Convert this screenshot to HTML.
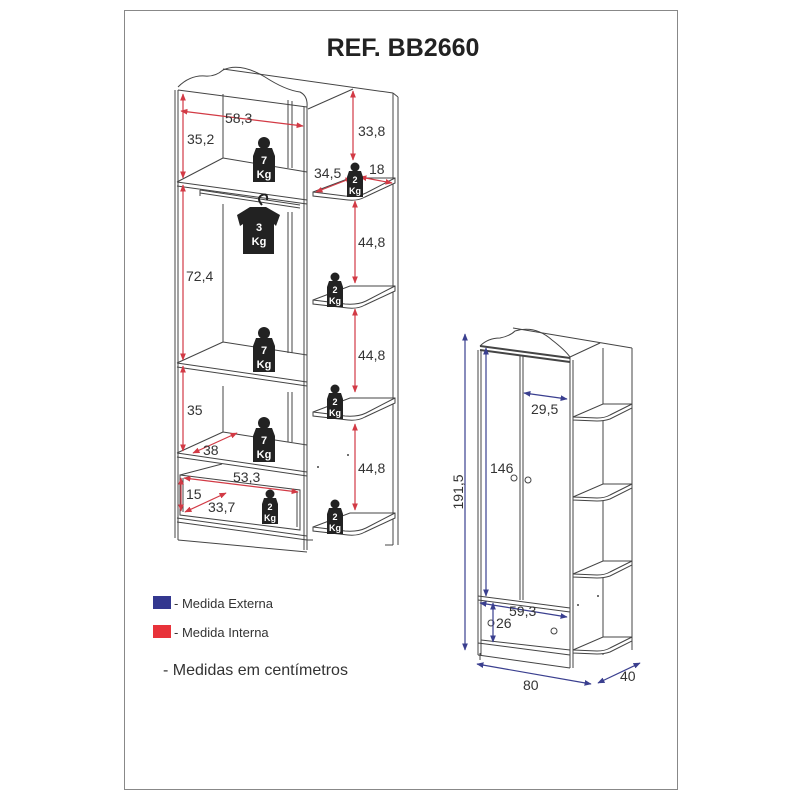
<!DOCTYPE html>
<html><head><meta charset="utf-8"><style>
html,body{margin:0;padding:0;background:#fff;}
svg{display:block;}
text{font-family:"Liberation Sans",Arial,sans-serif;}
</style></head><body>
<svg width="800" height="800" viewBox="0 0 800 800" xmlns="http://www.w3.org/2000/svg">
<defs>
<marker id="ar" viewBox="0 0 10 10" refX="9" refY="5" markerWidth="6" markerHeight="6" orient="auto-start-reverse"><path d="M0,1 L10,5 L0,9 z" fill="#d23a45"/></marker>
<marker id="ab" viewBox="0 0 10 10" refX="9" refY="5" markerWidth="6" markerHeight="6" orient="auto-start-reverse"><path d="M0,1 L10,5 L0,9 z" fill="#3a3f8f"/></marker>
<g id="w7"><circle cx="0" cy="-17" r="6" fill="#222"/><path d="M-8,-12 L8,-12 L11,-4 L11,22 L-11,22 L-11,-4 Z" fill="#222"/><text x="0" y="4" font-size="11" font-weight="bold" fill="#fff" text-anchor="middle">7</text><text x="0" y="18" font-size="11" font-weight="bold" fill="#fff" text-anchor="middle">Kg</text></g>
<g id="w2"><circle cx="0" cy="-13" r="4.5" fill="#222"/><path d="M-6,-9 L6,-9 L8,-3 L8,17 L-8,17 L-8,-3 Z" fill="#222"/><text x="0" y="3" font-size="9" font-weight="bold" fill="#fff" text-anchor="middle">2</text><text x="0" y="14" font-size="9" font-weight="bold" fill="#fff" text-anchor="middle">Kg</text></g>
<g id="sh"><path d="M313,192 L350,178 L395,178 L395,183 L365,197 Q358,201 348,200 L313,196 Z" fill="#fff" stroke="#444" stroke-width="1"/><path d="M313,192 L345,196 Q358,197 366,193 L395,178" fill="none" stroke="#444" stroke-width="1"/></g>
<g id="shb"><path d="M573,417 L603,404 L632,404 L632,408 L610,419 Q604,421 597,421 L573,420 Z" fill="#fff" stroke="#444" stroke-width="1"/><path d="M573,417 L597,418 Q605,418 610,415 L632,404" fill="none" stroke="#444" stroke-width="1"/></g>
</defs>
<rect x="124.5" y="10.5" width="553" height="779" fill="none" stroke="#888" stroke-width="1"/>
<text x="403" y="56" font-size="25" font-weight="bold" text-anchor="middle" fill="#222">REF. BB2660</text>

<!-- LEFT WARDROBE -->
<g fill="none" stroke="#444" stroke-width="1">
<path d="M175,90 L175,538 M178,90 L178,540"/>
<path d="M178,87 Q190,75 205,76 Q215,77 223,70 Q240,62 265,77 Q285,90 300,92 Q308,96 307,107"/>
<path d="M223,69 L393,93 M178,90 L307,107"/>
<path d="M307,107 L307,550 M304,107 L304,550"/>
<path d="M308,109 L353,89 M393,93 L393,545 M398,97 L398,545 M393,93 L398,97"/>
<path d="M223,94 L223,158 M288,100 L288,168 M292,101 L292,168"/>
<path d="M223,158 L307,172 M177,182 L223,158 M177,182 L307,200 M177,186 L307,204"/>
<path d="M200,190 L300,205 M200,193 L300,208 M200,190 L200,196"/>
<path d="M223,204 L223,342 M288,212 L288,353 M292,212 L292,353"/>
<path d="M223,342 L307,355 M177,363 L223,342 M177,363 L307,382 M177,367 L307,386"/>
<path d="M223,386 L223,432 M288,392 L288,442 M292,392 L292,442"/>
<path d="M223,432 L307,445 M177,453 L223,432 M177,453 L307,472 M177,457 L307,476"/>
<path d="M180,475 L222,464 M180,475 L300,490 L300,530 L180,515 Z M183,478 L183,512 M297,492 L297,527"/>
<path d="M177,518 L307,536 M177,522 L307,540 M178,540 L307,552"/>
<path d="M307,540 L313,540 M393,545 L385,545"/>
</g>
<use href="#sh"/>
<use href="#sh" transform="translate(0,108)"/>
<use href="#sh" transform="translate(0,220)"/>
<use href="#sh" transform="translate(0,335)"/>
<circle cx="318" cy="467" r="1" fill="#444"/><circle cx="348" cy="455" r="1" fill="#444"/>

<!-- red dims -->
<g stroke="#d23a45" stroke-width="1.2" fill="none">
<line x1="181" y1="111" x2="303" y2="126" marker-start="url(#ar)" marker-end="url(#ar)"/>
<line x1="183" y1="94" x2="183" y2="178" marker-start="url(#ar)" marker-end="url(#ar)"/>
<line x1="183" y1="185" x2="183" y2="360" marker-start="url(#ar)" marker-end="url(#ar)"/>
<line x1="183" y1="366" x2="183" y2="451" marker-start="url(#ar)" marker-end="url(#ar)"/>
<line x1="193" y1="453" x2="237" y2="433" marker-start="url(#ar)" marker-end="url(#ar)"/>
<line x1="184" y1="478" x2="298" y2="492" marker-start="url(#ar)" marker-end="url(#ar)"/>
<line x1="181" y1="478" x2="181" y2="511" marker-start="url(#ar)" marker-end="url(#ar)"/>
<line x1="185" y1="512" x2="226" y2="493" marker-start="url(#ar)" marker-end="url(#ar)"/>
<line x1="353" y1="91" x2="353" y2="160" marker-start="url(#ar)" marker-end="url(#ar)"/>
<line x1="316" y1="192" x2="352" y2="178" marker-start="url(#ar)" marker-end="url(#ar)"/>
<line x1="360" y1="177" x2="392" y2="183" marker-start="url(#ar)" marker-end="url(#ar)"/>
<line x1="355" y1="201" x2="355" y2="283" marker-start="url(#ar)" marker-end="url(#ar)"/>
<line x1="355" y1="309" x2="355" y2="392" marker-start="url(#ar)" marker-end="url(#ar)"/>
<line x1="355" y1="424" x2="355" y2="510" marker-start="url(#ar)" marker-end="url(#ar)"/>
</g>
<g font-size="14" fill="#333">
<text x="225" y="123">58,3</text>
<text x="187" y="144">35,2</text>
<text x="186" y="281">72,4</text>
<text x="187" y="415">35</text>
<text x="203" y="455">38</text>
<text x="233" y="482">53,3</text>
<text x="186" y="499">15</text>
<text x="208" y="512">33,7</text>
<text x="358" y="136">33,8</text>
<text x="314" y="178">34,5</text>
<text x="369" y="174">18</text>
<text x="358" y="247">44,8</text>
<text x="358" y="360">44,8</text>
<text x="358" y="473">44,8</text>
</g>
<!-- weights -->
<use href="#w7" x="264" y="160"/>
<use href="#w7" x="264" y="350"/>
<use href="#w7" x="264" y="440"/>
<use href="#w2" x="355" y="180"/>
<use href="#w2" x="335" y="290"/>
<use href="#w2" x="335" y="402"/>
<use href="#w2" x="335" y="517"/>
<use href="#w2" x="270" y="507"/>
<g>
<path d="M262,205 Q256,198 262,195 Q268,193 267,200" fill="none" stroke="#222" stroke-width="2"/>
<path d="M250,207 L266,207 L280,215 L276,226 L274,224 L274,254 L243,254 L243,224 L240,226 L237,215 Z" fill="#222"/>
<text x="259" y="231" font-size="11" font-weight="bold" fill="#fff" text-anchor="middle">3</text>
<text x="259" y="245" font-size="11" font-weight="bold" fill="#fff" text-anchor="middle">Kg</text>
</g>

<!-- RIGHT WARDROBE -->
<g fill="none" stroke="#444" stroke-width="1">
<path d="M478,350 L478,655 M481,350 L481,655"/>
<path d="M480,346 Q488,338 500,338 Q510,336 515,331 Q535,325 552,340 Q565,350 570,357"/>
<path d="M480,346 L570,358 M480,350 L570,362" stroke-width="2"/>
<path d="M570,357 L570,668 M573,360 L573,668"/>
<path d="M513,328 L632,348 M570,357 L600,343 M603,348 L603,655 M632,348 L632,650"/>
<path d="M523,355 L523,600 M520,355 L520,600"/>
<path d="M478,596 L570,608 M478,600 L570,612"/>
<path d="M481,640 L570,650 M478,643 L570,655 M478,655 L570,668 M480,653 L480,660"/>
</g>
<use href="#shb"/>
<use href="#shb" transform="translate(0,80)"/>
<use href="#shb" transform="translate(0,157)"/>
<use href="#shb" transform="translate(0,233)"/>
<g fill="#fff" stroke="#444"><circle cx="514" cy="478" r="3"/><circle cx="528" cy="480" r="3"/><circle cx="491" cy="623" r="3"/><circle cx="554" cy="631" r="3"/></g>
<circle cx="578" cy="605" r="1" fill="#444"/><circle cx="598" cy="596" r="1" fill="#444"/>
<g stroke="#3a3f8f" stroke-width="1.2" fill="none">
<line x1="465" y1="334" x2="465" y2="650" marker-start="url(#ab)" marker-end="url(#ab)"/>
<line x1="486" y1="348" x2="486" y2="596" marker-start="url(#ab)" marker-end="url(#ab)"/>
<line x1="524" y1="393" x2="567" y2="399" marker-start="url(#ab)" marker-end="url(#ab)"/>
<line x1="480" y1="603" x2="567" y2="617" marker-start="url(#ab)" marker-end="url(#ab)"/>
<line x1="493" y1="603" x2="493" y2="642" marker-start="url(#ab)" marker-end="url(#ab)"/>
<line x1="477" y1="664" x2="591" y2="684" marker-start="url(#ab)" marker-end="url(#ab)"/>
<line x1="598" y1="683" x2="640" y2="663" marker-start="url(#ab)" marker-end="url(#ab)"/>
</g>
<g font-size="14" fill="#333">
<text x="531" y="414">29,5</text>
<text x="490" y="473">146</text>
<text x="509" y="616">59,3</text>
<text x="496" y="628">26</text>
<text x="523" y="690">80</text>
<text x="620" y="681">40</text>
<text transform="translate(463,492) rotate(-90)" text-anchor="middle">191,5</text>
</g>

<!-- legend -->
<rect x="153" y="596" width="18" height="13" fill="#33378f"/>
<rect x="153" y="625" width="18" height="13" fill="#e8323a"/>
<g fill="#333">
<text x="174" y="608" font-size="13">- Medida Externa</text>
<text x="174" y="637" font-size="13">- Medida Interna</text>
<text x="163" y="675" font-size="16">- Medidas em centímetros</text>
</g>
</svg>
</body></html>
